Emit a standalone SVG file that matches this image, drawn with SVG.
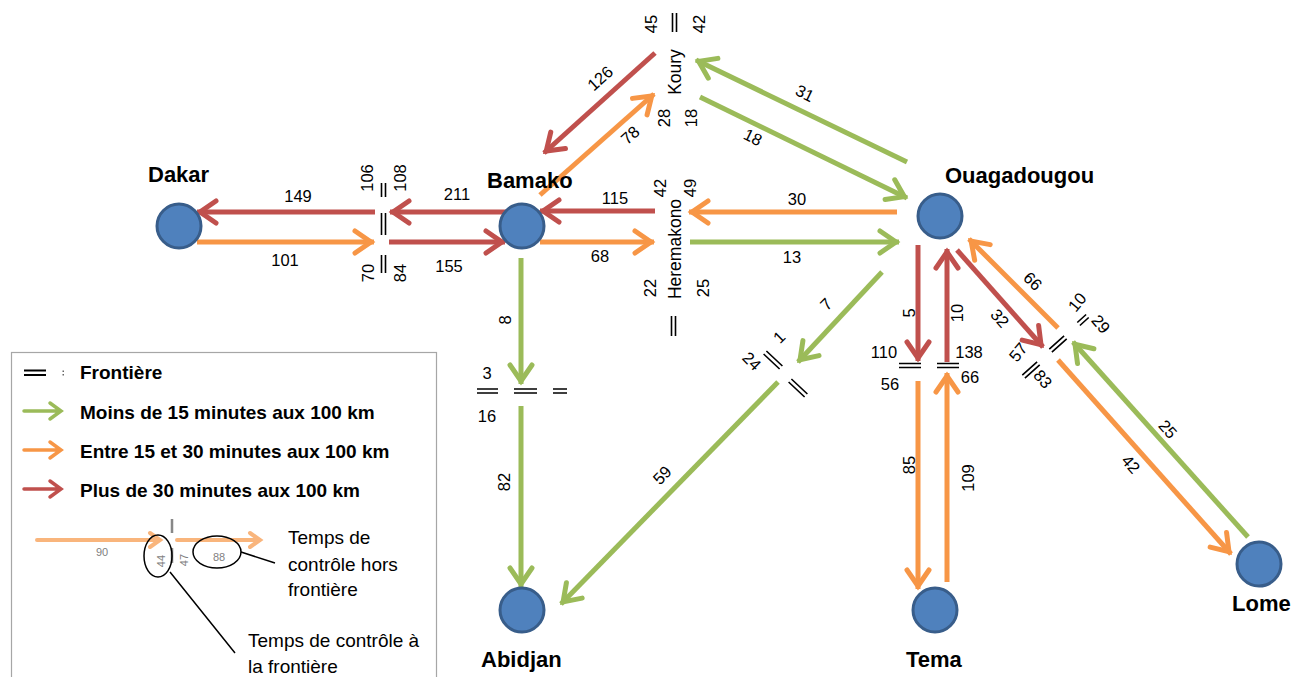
<svg xmlns="http://www.w3.org/2000/svg" width="1298" height="677" viewBox="0 0 1298 677">
<style>
.r{stroke:#C0504D;stroke-width:5;fill:none}
.o{stroke:#F79646;stroke-width:5;fill:none}
.g{stroke:#9BBB59;stroke-width:5;fill:none}
.r{marker-end:url(#mr)}.o{marker-end:url(#mo)}.g{marker-end:url(#mg)}
.nb{stroke:none}
.b{stroke:#000;stroke-width:1.6;fill:none}
.node circle{fill:#4F81BD;stroke:#385D8A;stroke-width:3}
.node text{font-family:"Liberation Sans",Arial,sans-serif;font-weight:bold;font-size:22px;fill:#000}
.n{font-family:"Liberation Sans",Arial,sans-serif;font-size:16.5px;fill:#000;text-anchor:middle}
.p{font-family:"Liberation Sans",Arial,sans-serif;font-size:17.5px;fill:#000;text-anchor:middle}
.lg{font-family:"Liberation Sans",Arial,sans-serif;font-weight:bold;font-size:19px;fill:#000}
.lt{font-family:"Liberation Sans",Arial,sans-serif;font-size:19px;fill:#000}
.sm{font-family:"Liberation Sans",Arial,sans-serif;font-size:11px;fill:#7F7F7F;text-anchor:middle}
</style>
<defs>
<marker id="mr" markerUnits="userSpaceOnUse" markerWidth="40" markerHeight="40" viewBox="-30 -20 40 40" refX="0" refY="0" orient="auto" overflow="visible"><path d="M-19,-11 L-3,0 L-19,11" fill="none" stroke="#C0504D" stroke-width="5" stroke-linecap="round"/></marker>
<marker id="mo" markerUnits="userSpaceOnUse" markerWidth="40" markerHeight="40" viewBox="-30 -20 40 40" refX="0" refY="0" orient="auto" overflow="visible"><path d="M-19,-11 L-3,0 L-19,11" fill="none" stroke="#F79646" stroke-width="5" stroke-linecap="round"/></marker>
<marker id="mg" markerUnits="userSpaceOnUse" markerWidth="40" markerHeight="40" viewBox="-30 -20 40 40" refX="0" refY="0" orient="auto" overflow="visible"><path d="M-19,-11 L-3,0 L-19,11" fill="none" stroke="#9BBB59" stroke-width="5" stroke-linecap="round"/></marker>
</defs>
<rect width="1298" height="677" fill="#fff"/>

<g id="connectors">
<path class="r" d="M375,212 L197,212"/>
<path class="r" d="M507,212 L390,212"/>
<path class="r" d="M389,242 L505,242"/>
<path class="r" d="M655,211 L540,211"/>
<path class="r" d="M655,53 L544,153"/>
<path class="r" d="M918,245 L918,361"/>
<path class="r" d="M947,362 L947,249"/>
<path class="r" d="M957,250 L1043,347"/>
<path class="o" d="M197,242 L374,242"/>
<path class="o" d="M540,242 L654,242"/>
<path class="o" d="M897,212 L689,212"/>
<path class="o" d="M540,195 L654,94"/>
<path class="o" d="M918,381 L918,589"/>
<path class="o" d="M947,582 L947,373"/>
<path class="o" d="M1058,328 L969,239"/>
<path class="o" d="M1058,360 L1231,554"/>
<path class="g" d="M690,242 L899,242"/>
<path class="g" d="M907,162 L696,60"/>
<path class="g" d="M700,97 L907,198"/>
<path class="g" d="M521,258 L521,384"/>
<path class="g" d="M521,406 L521,587"/>
<path class="g" d="M882,272 L798,362"/>
<path class="g" d="M778,382 L561,604"/>
<path class="g" d="M1248,537 L1073,342"/>
</g>

<g id="borders">
<path class="b" d="M381.5,183V197M385.5,183V197M381.5,213V235M385.5,213V235M381.5,255V273M385.5,255V273"/>
<path class="b" d="M672.5,13V32M676.5,13V32"/>
<path class="b" d="M671.5,316V336M675.5,316V336"/>
<path class="b" d="M477,389H498M477,393H498M514,389H537M514,393H537M553,389H567M553,393H567"/>
<path class="b" d="M899,363.5H921M899,367.5H921M937,363.5H959M937,367.5H959"/>
<path class="b" d="M763.6,354L779.6,369M766.4,351L782.4,366M788.6,382L804.6,397M791.4,379L807.4,394"/>
<path class="b" d="M1051.9,352.2L1066.7,338.8M1049.3,349.2L1064.1,335.8M1024.9,378.2L1039.7,364.8M1022.3,375.2L1037.1,361.8M1079.9,325.5L1088.7,317.5M1077.3,322.5L1086.1,314.5"/>
</g>

<g id="node-dakar" class="node"><circle cx="179" cy="226" r="22"/><text x="148" y="182">Dakar</text></g>
<g id="node-bamako" class="node"><circle cx="522" cy="226" r="22"/><text x="487" y="188">Bamako</text></g>
<g id="node-ouagadougou" class="node"><circle cx="940" cy="216" r="22"/><text x="945" y="183">Ouagadougou</text></g>
<g id="node-abidjan" class="node"><circle cx="522" cy="610" r="22"/><text x="481" y="667">Abidjan</text></g>
<g id="node-tema" class="node"><circle cx="935" cy="610" r="22"/><text x="906" y="667">Tema</text></g>
<g id="node-lome" class="node"><circle cx="1259" cy="564" r="22"/><text x="1232" y="611">Lome</text></g>

<g id="labels">
<text class="n" x="298" y="202">149</text>
<text class="n" x="457" y="200">211</text>
<text class="n" x="285" y="266">101</text>
<text class="n" x="449" y="272">155</text>
<text class="n" x="615" y="204">115</text>
<text class="n" x="600" y="262">68</text>
<text class="n" x="797" y="205">30</text>
<text class="n" x="792" y="263">13</text>
<text class="n" x="487" y="379">3</text>
<text class="n" x="487" y="422">16</text>
<text class="n" x="884" y="358">110</text>
<text class="n" x="969" y="358">138</text>
<text class="n" x="890" y="390">56</text>
<text class="n" x="970" y="383">66</text>

<text class="n" transform="translate(367,178) rotate(-90)" y="6">106</text>
<text class="n" transform="translate(400,178) rotate(-90)" y="6">108</text>
<text class="n" transform="translate(368,273) rotate(-90)" y="6">70</text>
<text class="n" transform="translate(400,273) rotate(-90)" y="6">84</text>
<text class="n" transform="translate(660,188) rotate(-90)" y="6">42</text>
<text class="n" transform="translate(690,188) rotate(-90)" y="6">49</text>
<text class="n" transform="translate(650,288) rotate(-90)" y="6">22</text>
<text class="n" transform="translate(703,288) rotate(-90)" y="6">25</text>
<text class="p" transform="translate(675,249) rotate(-90)" y="6">Heremakono</text>
<text class="p" transform="translate(675,72) rotate(-90)" y="6">Koury</text>
<text class="n" transform="translate(651,24) rotate(-90)" y="6">45</text>
<text class="n" transform="translate(699,24) rotate(-90)" y="6">42</text>
<text class="n" transform="translate(664,118) rotate(-90)" y="6">28</text>
<text class="n" transform="translate(691,118) rotate(-90)" y="6">18</text>
<text class="n" transform="translate(600,78) rotate(-42)" y="6">126</text>
<text class="n" transform="translate(630,135) rotate(-42)" y="6">78</text>
<text class="n" transform="translate(805,93) rotate(26)" y="6">31</text>
<text class="n" transform="translate(753,137) rotate(26)" y="6">18</text>
<text class="n" transform="translate(505,320) rotate(-90)" y="6">8</text>
<text class="n" transform="translate(504,482) rotate(-90)" y="6">82</text>
<text class="n" transform="translate(662,475) rotate(-46)" y="6">59</text>
<text class="n" transform="translate(826,304) rotate(-45)" y="6">7</text>
<text class="n" transform="translate(779,337) rotate(-45)" y="6">1</text>
<text class="n" transform="translate(752,361) rotate(45)" y="6">24</text>
<text class="n" transform="translate(909,313) rotate(-90)" y="6">5</text>
<text class="n" transform="translate(957,313) rotate(-90)" y="6">10</text>
<text class="n" transform="translate(909,465) rotate(-90)" y="6">85</text>
<text class="n" transform="translate(968,478) rotate(-90)" y="6">109</text>
<text class="n" transform="translate(1000,318) rotate(48)" y="6">32</text>
<text class="n" transform="translate(1033,281) rotate(45)" y="6">66</text>
<text class="n" transform="translate(1018,352) rotate(-50)" y="6">57</text>
<text class="n" transform="translate(1043,379) rotate(50)" y="6">83</text>
<text class="n" transform="translate(1077,302) rotate(-50)" y="6">10</text>
<text class="n" transform="translate(1101,324) rotate(50)" y="6">29</text>
<text class="n" transform="translate(1168,429) rotate(48)" y="6">25</text>
<text class="n" transform="translate(1131,464) rotate(48)" y="6">42</text>
</g>

<g id="legend">
<rect x="11.5" y="352.5" width="425" height="330" fill="#fff" stroke="#A6A6A6" stroke-width="1.2"/>
<path d="M24,370.5H46M24,375H46" stroke="#000" stroke-width="2"/>
<rect x="62.5" y="370.5" width="1.5" height="1.5" fill="#666"/>
<rect x="62.5" y="374" width="1.5" height="1.5" fill="#666"/>
<text class="lg" x="80" y="379">Frontière</text>
<path d="M24,411H60M50,403L61,411L50,419" fill="none" stroke="#9BBB59" stroke-width="3.5" stroke-linecap="round"/>
<text class="lg" x="80" y="419">Moins de 15 minutes aux 100 km</text>
<path d="M24,450H60M50,442L61,450L50,458" fill="none" stroke="#F79646" stroke-width="3.5" stroke-linecap="round"/>
<text class="lg" x="80" y="458">Entre 15 et 30 minutes aux 100 km</text>
<path d="M24,489H60M50,481L61,489L50,497" fill="none" stroke="#C0504D" stroke-width="3.5" stroke-linecap="round"/>
<text class="lg" x="80" y="497">Plus de 30 minutes aux 100 km</text>
<g opacity="0.7">
<path d="M37,540H159M150,533L160,540L150,547M177,540H259M250,533L260,540L250,547" fill="none" stroke="#F79646" stroke-width="4" stroke-linecap="round"/>
<path d="M172,519V533M172,548V563" stroke="#555" stroke-width="2.5"/>
</g>
<text class="sm" x="102" y="556">90</text>
<text class="sm" transform="translate(161,561) rotate(-90)" y="4">44</text>
<text class="sm" transform="translate(184,560) rotate(-90)" y="4">47</text>
<text class="sm" x="219" y="561">88</text>
<ellipse cx="158" cy="556" rx="14" ry="21" fill="none" stroke="#000" stroke-width="1.5"/>
<ellipse cx="217" cy="552" rx="24" ry="16" fill="none" stroke="#000" stroke-width="1.5"/>
<path d="M241,552L275,563M170,572L235,653" stroke="#000" stroke-width="1.5" fill="none"/>
<text class="lt" x="288" y="544">Temps de</text>
<text class="lt" x="288" y="571">contrôle hors</text>
<text class="lt" x="288" y="596">frontière</text>
<text class="lt" x="248" y="647">Temps de contrôle à</text>
<text class="lt" x="248" y="673">la frontière</text>
</g>
</svg>
